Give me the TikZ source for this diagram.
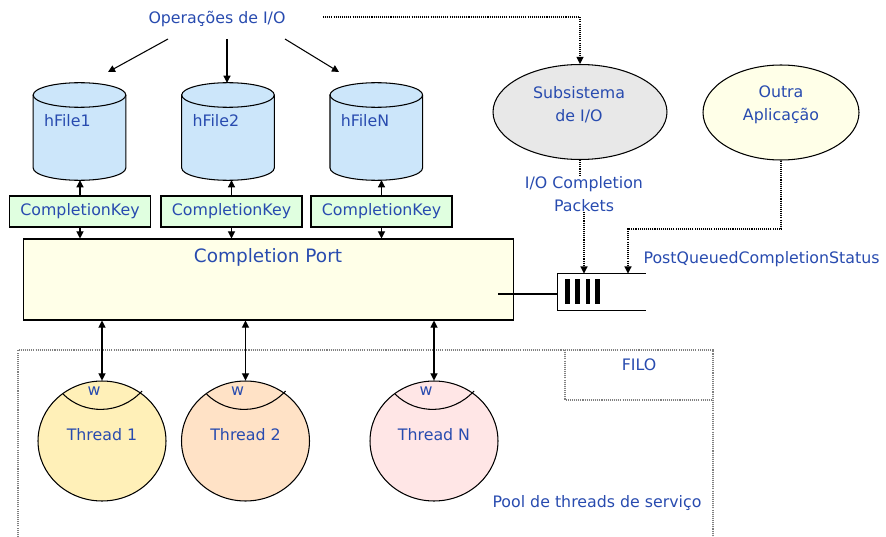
\documentclass[tikz,border=0pt]{standalone}
\usepackage{fontspec}
\setmainfont{DejaVu Sans}
\usetikzlibrary{shapes.geometric,arrows.meta}

\definecolor{txtblue}{RGB}{40,75,175}
\definecolor{diskblue}{RGB}{204,230,250}
\definecolor{keygreen}{RGB}{224,255,224}
\definecolor{portyellow}{RGB}{255,255,232}
\definecolor{subgray}{RGB}{232,232,232}
\definecolor{thrA}{RGB}{255,240,184}
\definecolor{thrB}{RGB}{255,226,198}
\definecolor{thrC}{RGB}{255,230,230}

\tikzset{
  lbl/.style={text=txtblue, font=\fontsize{9}{13}\selectfont, inner sep=0pt},
  diskarea/.style={minimum width=1.85cm, minimum height=1.95cm, inner sep=0pt, outer sep=0pt},
  rim/.style={x radius=0.926cm, y radius=0.246cm},
  keybox/.style={draw, fill=keygreen, minimum width=2.82cm, minimum height=0.62cm,
    inner sep=0pt, text=txtblue, font=\fontsize{9}{11}\selectfont},
  thread/.style={ellipse, draw, minimum width=2.56cm, minimum height=2.4cm, inner sep=0pt},
  bubble/.style={ellipse, draw, minimum height=1.9cm, inner sep=0pt},
  tip/.style={-{Triangle[length=4pt,width=4pt]}},
  tips/.style={{Triangle[length=4pt,width=4pt]}-{Triangle[length=4pt,width=4pt]}},
  dots/.style={dash pattern=on 0.6pt off 0.6pt},
}

\begin{document}
\begin{tikzpicture}[x=0.02cm, y=-0.02cm, line width=0.6pt]
\useasboundingbox (0,0) rectangle (886,537);

% I/O operations
\node[lbl] (ops) at (217,19) {Operações de I/O};
\coordinate (opsA) at (168,39);
\coordinate (opsB) at (227,39);
\coordinate (opsC) at (285,39);
\coordinate (opsD) at (323,17);

% File handles (cylinders)
\foreach \cx/\f in {79.5/1, 228/2, 376.3/N} {
  \draw[fill=diskblue] (\cx-46.3,95) -- (\cx-46.3,168) arc[start angle=180, end angle=360, rim]
    -- (\cx+46.3,95) arc[start angle=0, end angle=180, rim] -- cycle;
  \draw (\cx-46.3,95) arc[start angle=180, end angle=360, rim];
  \node[diskarea] (hfile\f) at (\cx,131.5) {};
  \node[lbl, anchor=west] at (\cx-36,121) {hFile\f};
}

\coordinate (to1) at (108,72);
\coordinate (toN) at (339,72);
\draw[tip] (opsA) -- (to1);
\draw[tip] (opsB) -- (opsB |- hfile2.north);
\draw[tip] (opsC) -- (toN);

% Completion keys
\node[keybox] (key1) at (80,211.5) {CompletionKey};
\node[keybox] (key2) at (231.5,211.5) {CompletionKey};
\node[keybox] (keyN) at (381.5,211.5) {CompletionKey};

% Completion port
\node[draw, fill=portyellow, minimum width=9.82cm, minimum height=1.62cm] (port) at (268.5,279.5) {};
\node[lbl, font=\fontsize{10.5}{12}\selectfont] (porttitle) at (268,257) {Completion Port};

\foreach \k in {1,2,N} {
  \draw[tip] (key\k.north) -- (key\k.north |- hfile\k.south);
  \draw[tip] (key\k.south) -- (key\k.south |- port.north);
}

% I/O subsystem and other application
\node[bubble, fill=subgray, minimum width=3.48cm] (sub) at (580,112) {};
\node[lbl, align=center] at (579,104.5) {Subsistema\\de I/O};
\node[bubble, fill=portyellow, minimum width=3.12cm] (app) at (781,112.5) {};
\node[lbl, align=center] at (781,104.5) {Outra\\Aplicação};

\draw[dots, tip] (opsD) -- (opsD -| sub.north) -- (sub.north);

% Completion queue
\node[minimum width=1.74cm, minimum height=0.71cm, inner sep=0pt] (queue) at (601.5,291.8) {};
\draw (queue.north east) -- (queue.north west) -- (queue.south west) -- (queue.south east);
\foreach \bx in {567.5,577.5,588,597.5}
  \draw[line width=2.6pt] (\bx,279) -- (\bx,304);
\coordinate (portout) at (498,294);
\draw (portout) -- (portout -| queue.west);

\node[lbl, align=center] (pkts) at (584,194) {I/O Completion\\Packets};
\draw[dots] (sub.south) -- (sub.south |- pkts.north);
\draw[dots, tip] (pkts.south) -- (pkts.south |- queue.north);

\coordinate (bend) at (628,229);
\draw[dots, tip] (app.south) |- (bend) -- (bend |- queue.north);
\node[lbl, anchor=west] (pqcs) at (643,259) {PostQueuedCompletionStatus};

% Pool of service threads
\draw[gray, dots] (18,537) -- (18,350) -- (713,350) -- (713,537);
\draw[gray, dots] (565,350) -- (565,400) -- (713,400);
\node[lbl] (filo) at (639,365) {FILO};
\node[lbl] (pool) at (597,503) {Pool de threads de serviço};

\foreach \x/\n/\col in {102/1/thrA, 245.5/2/thrB, 434/N/thrC} {
  \node[thread, fill=\col] (t\n) at (\x,441) {};
  \node[lbl] at (\x,435) {Thread \n};
  \node[lbl] at (\x-8,391) {w};
  \draw (\x-39,394) .. controls (\x-18,415) and (\x+18,415) .. (\x+40,391);
  \draw[tips] (t\n.north) -- (t\n.north |- port.south);
}

\end{tikzpicture}
\end{document}
